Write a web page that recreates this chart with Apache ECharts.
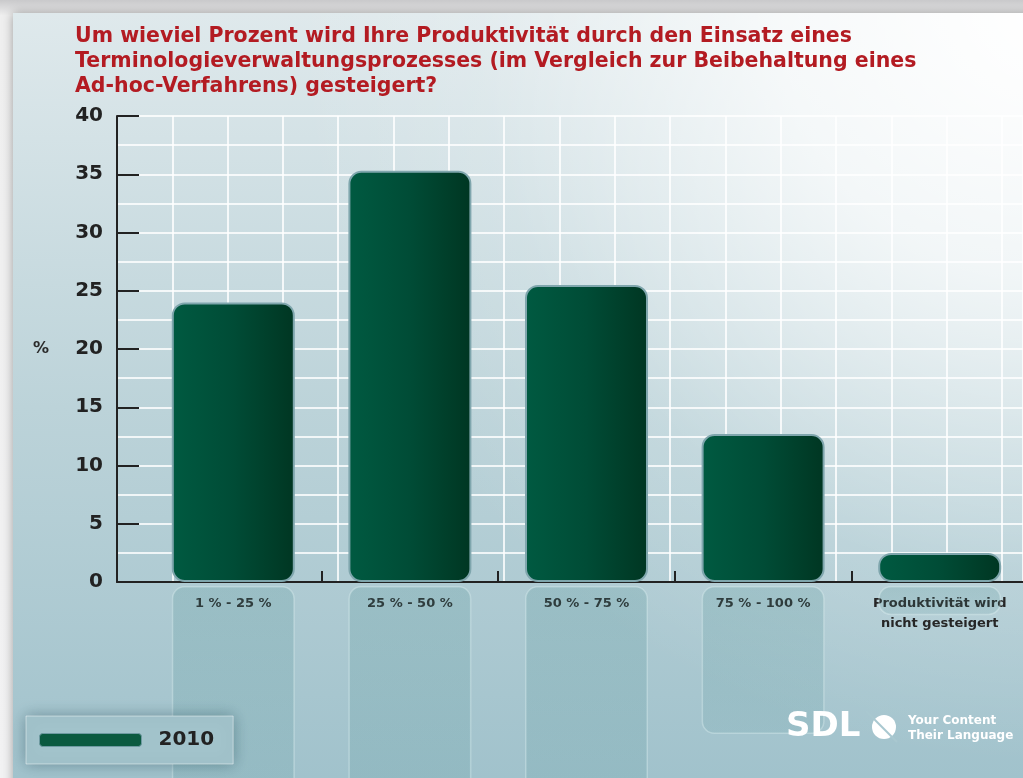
<!DOCTYPE html>
<html>
<head>
<meta charset="utf-8">
<script src="https://cdn.jsdelivr.net/npm/echarts@6/dist/echarts.min.js"></script>
<style>
html,body{margin:0;padding:0;background:#e9eced;}
#chart{width:1023px;height:778px;}
</style>
</head>
<body>
<div id="chart"></div>
<script>
const titleText = 'Um wieviel Prozent wird Ihre Produktivität durch den Einsatz eines\nTerminologieverwaltungsprozesses (im Vergleich zur Beibehaltung eines\nAd-hoc-Verfahrens) gesteigert?';
const categories = ['1 % - 25 %', '25 % - 50 %', '50 % - 75 %', '75 % - 100 %', 'Produktivität wird\nnicht gesteigert'];
const seriesName = '2010';
const values2010 = [24.0, 35.3, 25.5, 12.7, 2.5];
const yMin = 0, yMax = 40, yInterval = 5;
const yAxisName = '%';

const chart = echarts.init(document.getElementById('chart'), null, {renderer: 'canvas'});

const FONT = 'DejaVu Sans';
const barGradient = new echarts.graphic.LinearGradient(0, 0, 1, 0, [
  {offset: 0, color: '#005a41'},
  {offset: 0.5, color: '#004c36'},
  {offset: 1, color: '#003622'}
]);
const reflGradient = new echarts.graphic.LinearGradient(0, 0, 0, 1, [
  {offset: 0, color: 'rgba(80,145,148,0.22)'},
  {offset: 1, color: 'rgba(80,145,148,0.12)'}
]);

const option = {
  animation: false,
  title: {
    text: titleText,
    left: 75, top: 24, padding: 0,
    textStyle: {fontFamily: FONT, fontWeight: 'bold', fontSize: 20.5, lineHeight: 25, color: '#b31b22'}
  },
  legend: {
    data: [{name: seriesName, icon: 'roundRect', itemStyle: {color: '#0b5a40', borderColor: '#6f9aa2', borderWidth: 1}}],
    left: 26, top: 716,
    padding: [14, 19, 14, 13],
    itemWidth: 102, itemHeight: 13,
    backgroundColor: '#a2c3cb',
    borderColor: 'rgba(255,255,255,0.45)', borderWidth: 1,
    shadowBlur: 14, shadowColor: 'rgba(40,80,90,0.45)',
    textStyle: {fontFamily: FONT, fontWeight: 'bold', fontSize: 20, color: '#222', padding: [0, 0, 0, 12]}
  },
  graphic: [
    {type: 'rect', z: -100, shape: {x: 0, y: 0, width: 1023, height: 778},
      style: {fill: new echarts.graphic.LinearGradient(0, 0, 0, 1, [
        {offset: 0, color: '#c9c9cb'}, {offset: 0.02, color: '#efefef'}, {offset: 1, color: '#f2f2f3'}])}},
    {type: 'rect', z: -99, shape: {x: 13, y: 13, width: 1030, height: 790},
      style: {
        fill: new echarts.graphic.LinearGradient(0, 0, 0, 1, [
          {offset: 0, color: '#dfe9ec'},
          {offset: 0.5, color: '#bcd3d9'},
          {offset: 1, color: '#9fc1cb'}
        ]),
        shadowBlur: 10, shadowColor: 'rgba(0,0,0,0.35)'
      }},
    {type: 'rect', z: -98, shape: {x: 13, y: 13, width: 1030, height: 790}, silent: true,
      style: {
        fill: new echarts.graphic.RadialGradient(1, 0, 0.95, [
          {offset: 0, color: 'rgba(255,255,255,1)'},
          {offset: 0.35, color: 'rgba(255,255,255,0.75)'},
          {offset: 0.75, color: 'rgba(255,255,255,0.15)'},
          {offset: 1, color: 'rgba(255,255,255,0)'}
        ])
      }},
    {type: 'text', left: 786, top: 710, z: 10,
      style: {text: 'SDL', fill: '#ffffff', font: 'bold 34px "DejaVu Sans"'}},
    {type: 'circle', z: 10, shape: {cx: 884, cy: 727, r: 12}, style: {fill: '#ffffff'}},
    {type: 'line', z: 11, shape: {x1: 866, y1: 711, x2: 897, y2: 742}, style: {stroke: '#a9c8d0', lineWidth: 2}},
    {type: 'text', left: 908, top: 713, z: 10,
      style: {text: 'Your Content\nTheir Language', fill: '#ffffff', font: 'bold 12px "DejaVu Sans"', lineHeight: 15}}
  ],
  grid: [
    {left: 117, right: 0, top: 116, height: 466, outerBoundsMode: 'none'},
    {left: 145, right: -5, top: 116, height: 466, outerBoundsMode: 'none'},
    {left: 145, right: -5, top: 586, height: 466, outerBoundsMode: 'none'}
  ],
  xAxis: [
    {gridIndex: 0, type: 'value', min: 0, max: 16.38, interval: 1,
      axisLine: {show: true, onZero: false, lineStyle: {color: '#222', width: 2}},
      axisTick: {show: false}, axisLabel: {show: false},
      splitLine: {show: true, lineStyle: {color: 'rgba(255,255,255,0.8)', width: 2}}},
    {gridIndex: 1, type: 'category', data: categories,
      axisLine: {show: false},
      axisTick: {show: true, inside: true, length: 11, interval: function (i) { return i !== 0; }, lineStyle: {color: '#222', width: 2}},
      axisLabel: {margin: 12, interval: 0, fontFamily: FONT, fontWeight: 'bold', fontSize: 13, lineHeight: 20, color: '#262626'}},
    {gridIndex: 2, type: 'category', data: categories, show: false}
  ],
  yAxis: [
    {gridIndex: 0, type: 'value', min: yMin, max: yMax, interval: yInterval,
      name: yAxisName, nameLocation: 'middle', nameRotate: 0, nameGap: 68,
      nameTextStyle: {fontFamily: FONT, fontWeight: 'bold', fontSize: 16, color: '#2b2b2b'},
      axisLine: {show: true, lineStyle: {color: '#222', width: 2}},
      axisTick: {show: true, inside: true, length: 22, lineStyle: {color: '#222', width: 2}},
      axisLabel: {margin: 14, fontFamily: FONT, fontWeight: 'bold', fontSize: 20, color: '#222'},
      splitLine: {show: true, lineStyle: {color: 'rgba(255,255,255,0.8)', width: 2}},
      minorTick: {show: false, splitNumber: 2},
      minorSplitLine: {show: true, lineStyle: {color: 'rgba(255,255,255,0.8)', width: 2}}},
    {gridIndex: 1, type: 'value', min: yMin, max: yMax, interval: yInterval, show: false},
    {gridIndex: 2, type: 'value', min: yMin, max: yMax, interval: yInterval, show: false, inverse: true}
  ],
  series: [
    {name: seriesName + ' reflection', type: 'bar', xAxisIndex: 2, yAxisIndex: 2, data: values2010,
      barWidth: 123, silent: true, z: 1,
      itemStyle: {color: reflGradient, borderColor: 'rgba(230,245,245,0.35)', borderWidth: 1.5, borderRadius: 12}},
    {name: seriesName, type: 'bar', xAxisIndex: 1, yAxisIndex: 1, data: values2010,
      barWidth: 123, z: 3,
      itemStyle: {color: barGradient, borderColor: '#7fa6ad', borderWidth: 2, borderRadius: 12}}
  ]
};
chart.setOption(option);
</script>
</body>
</html>
